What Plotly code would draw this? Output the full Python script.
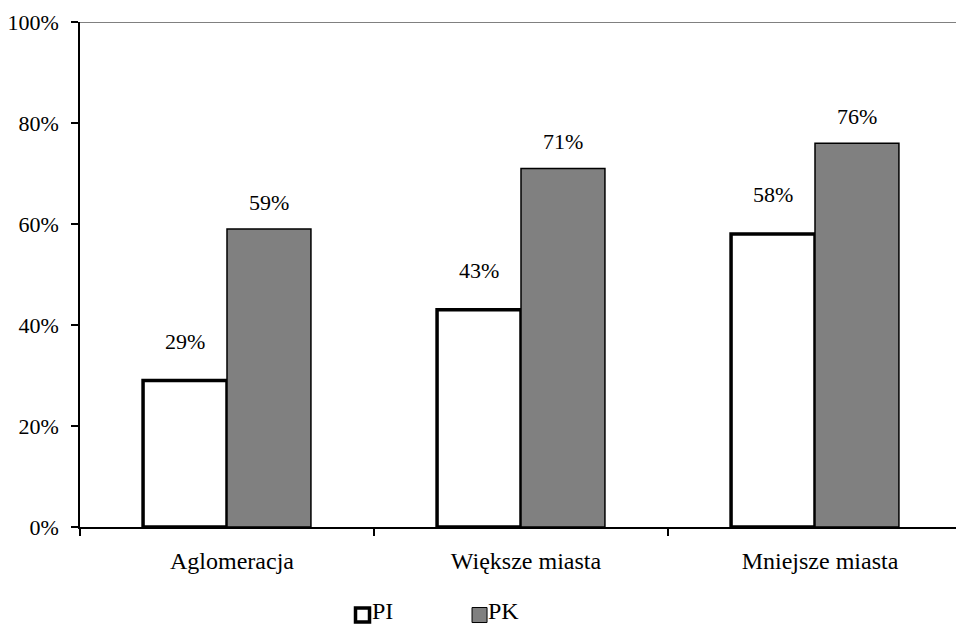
import plotly.graph_objects as go

# Data
categories = ["Aglomeracja", "Większe miasta", "Mniejsze miasta"]
series_names = ["PI", "PK"]
pi_values = [0.29, 0.43, 0.58]
pk_values = [0.59, 0.71, 0.76]

FONT = "'Liberation Serif', 'Times New Roman', serif"
FS = 22      # value labels and y ticks
FS_CAT = 24  # category labels and legend

fig = go.Figure()
fig.add_trace(go.Bar(
    x=categories, y=pi_values, name=series_names[0],
    marker=dict(color="white", line=dict(color="black", width=3.5)),
    showlegend=False,
))
fig.add_trace(go.Bar(
    x=categories, y=pk_values, name=series_names[1],
    marker=dict(color="#808080", line=dict(color="black", width=1.5)),
    showlegend=False,
))

# Value labels above each bar
annotations = []
for cat, v in zip(categories, pi_values):
    annotations.append(dict(
        x=cat, y=v, xref="x", yref="y", text=f"{round(v * 100)}%",
        showarrow=False, xshift=-42, yshift=25, yanchor="bottom",
        font=dict(family=FONT, size=FS, color="black"),
    ))
for cat, v in zip(categories, pk_values):
    annotations.append(dict(
        x=cat, y=v, xref="x", yref="y", text=f"{round(v * 100)}%",
        showarrow=False, xshift=42, yshift=12, yanchor="bottom",
        font=dict(family=FONT, size=FS, color="black"),
    ))

# Legend drawn below the plot: swatch + name
swatch_y = -0.1743
text_y = -0.166
legend_items = [
    (0.3225, 0.3322, 7, dict(fillcolor="white", line=dict(color="black", width=3.5))),
    (0.4561, 0.4646, 7.5, dict(fillcolor="#808080", line=dict(color="black", width=1))),
]
shapes = []
for (sx, tx, half, style), name in zip(legend_items, series_names):
    shapes.append(dict(
        type="rect", xref="paper", yref="paper",
        xsizemode="pixel", ysizemode="pixel",
        xanchor=sx, yanchor=swatch_y,
        x0=-half, x1=half, y0=-half, y1=half, **style,
    ))
    annotations.append(dict(
        x=tx, y=text_y, xref="paper", yref="paper", text=name,
        showarrow=False, xanchor="left", yanchor="middle", borderpad=0,
        font=dict(family=FONT, size=FS_CAT, color="black"),
    ))

# Top line at 100%
shapes.append(dict(
    type="line", xref="paper", yref="y", x0=0, x1=1, y0=1, y1=1,
    line=dict(color="#808080", width=2), layer="below",
))

fig.update_layout(
    width=956, height=624,
    margin=dict(l=80, r=0, t=22, b=97),
    paper_bgcolor="white", plot_bgcolor="white",
    barmode="group", bargap=0.429, bargroupgap=0,
    font=dict(family=FONT, size=FS, color="black"),
    annotations=annotations, shapes=shapes,
    showlegend=False,
)
fig.update_xaxes(
    range=[-0.5, 2.4796],
    showline=True, linecolor="black", linewidth=1.5,
    ticks="outside", tickson="boundaries", ticklen=7, tickwidth=1.5, tickcolor="black",
    showgrid=False, ticklabelstandoff=11, ticklabelshift=5,
    tickfont=dict(family=FONT, size=FS_CAT, color="black"),
)
fig.update_yaxes(
    range=[0, 1], dtick=0.2, tickformat=".0%",
    showline=True, linecolor="black", linewidth=1.5,
    ticks="outside", ticklen=7, tickwidth=1.5, tickcolor="black",
    showgrid=False, zeroline=False, ticklabelstandoff=8,
    tickfont=dict(family=FONT, size=FS, color="black"),
)

fig.write_html("out.html")
